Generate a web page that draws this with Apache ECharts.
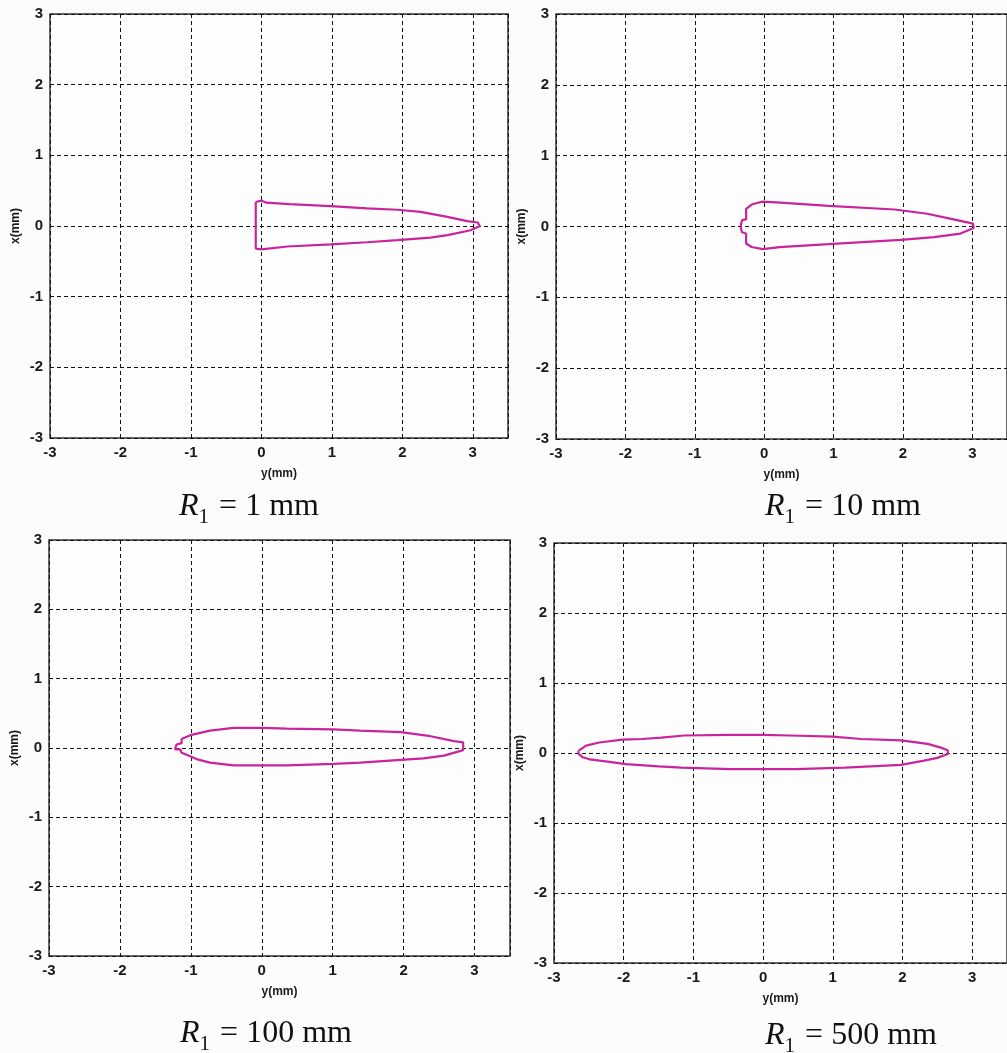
<!DOCTYPE html>
<html>
<head>
<meta charset="utf-8">
<script src="https://cdn.jsdelivr.net/npm/echarts@6/dist/echarts.min.js"></script>
<style>
  html, body { margin: 0; padding: 0; background: #fcfcfc; }
  #chart { width: 1007px; height: 1053px; }
</style>
</head>
<body>
<div id="chart"></div>
<script>
// Tick values shared by all four panels
const yTicks = [-3, -2, -1, 0, 1, 2, 3];   // horizontal axis, y(mm)
const xTicks = [-3, -2, -1, 0, 1, 2, 3];   // vertical axis, x(mm)

// Panel captions (source radius R1)
const radiusLabels = ['1 mm', '10 mm', '100 mm', '500 mm'];

// Contours as [y(mm), x(mm)] pairs, traced around each closed outline
const contourR1 = [
  [-0.08, 0.34], [0.00, 0.36], [0.07, 0.33], [0.40, 0.31], [0.98, 0.28],
  [1.50, 0.25], [1.93, 0.23], [2.26, 0.20], [2.64, 0.13], [2.92, 0.07],
  [3.07, 0.05], [3.10, 0.00], [3.08, -0.02], [2.97, -0.06], [2.64, -0.13],
  [2.40, -0.165], [1.93, -0.20], [1.50, -0.23], [0.98, -0.26], [0.37, -0.29],
  [0.00, -0.33], [-0.08, -0.32], [-0.08, 0.34]
];
const contourR10 = [
  [-0.34, 0.00], [-0.32, 0.09], [-0.26, 0.10], [-0.26, 0.25], [-0.18, 0.31],
  [-0.035, 0.35], [0.18, 0.34], [0.93, 0.29], [1.88, 0.24], [2.35, 0.18],
  [2.73, 0.10], [3.01, 0.04], [3.02, -0.02], [2.83, -0.10], [2.45, -0.15],
  [1.97, -0.19], [0.93, -0.25], [0.22, -0.29], [-0.02, -0.32], [-0.18, -0.29],
  [-0.26, -0.24], [-0.26, -0.10], [-0.32, -0.08], [-0.34, 0.00]
];
const contourR100 = [
  [-1.22, 0.00], [-1.20, 0.05], [-1.13, 0.07], [-1.13, 0.13], [-0.99, 0.19],
  [-0.73, 0.25], [-0.40, 0.29], [0.02, 0.29], [0.35, 0.28], [1.01, 0.27],
  [1.39, 0.25], [1.96, 0.23], [2.38, 0.17], [2.71, 0.10], [2.84, 0.08],
  [2.84, -0.03], [2.57, -0.11], [2.28, -0.15], [1.96, -0.17], [1.39, -0.21],
  [1.01, -0.23], [0.35, -0.25], [0.02, -0.25], [-0.40, -0.25], [-0.73, -0.21],
  [-0.92, -0.16], [-1.01, -0.12], [-1.13, -0.07], [-1.15, -0.02], [-1.22, -0.02],
  [-1.22, 0.00]
];
const contourR500 = [
  [-2.65, 0.03], [-2.54, 0.105], [-2.35, 0.15], [-2.02, 0.19], [-1.74, 0.20],
  [-1.46, 0.22], [-1.13, 0.25], [-0.47, 0.26], [0.00, 0.26], [0.38, 0.25],
  [1.00, 0.235], [1.41, 0.20], [1.98, 0.18], [2.36, 0.13], [2.54, 0.08],
  [2.65, 0.04], [2.65, -0.015], [2.50, -0.07], [2.31, -0.11], [1.98, -0.17],
  [1.18, -0.21], [0.47, -0.23], [0.00, -0.23], [-0.47, -0.23], [-1.17, -0.21],
  [-1.50, -0.19], [-1.97, -0.16], [-2.26, -0.12], [-2.49, -0.09], [-2.59, -0.06],
  [-2.65, -0.01], [-2.65, 0.03]
];
const contours = [contourR1, contourR10, contourR100, contourR500];

// Plot boxes in pixels
const boxes = [
  { left: 50, top: 14, width: 458, height: 424 },
  { left: 556, top: 14, width: 458, height: 425 },
  { left: 49, top: 540, width: 461, height: 416 },
  { left: 554, top: 543, width: 458, height: 420 }
];
// Caption centres
const captionPos = [
  { x: 249, y: 491 }, { x: 843, y: 491 },
  { x: 266, y: 1018 }, { x: 851, y: 1020 }
];

const tickFont = { fontFamily: 'Liberation Sans, Arial', fontWeight: 'bold', fontSize: 15, color: '#1a1a1a' };
const nameFont = { fontFamily: 'Liberation Sans, Arial', fontWeight: 'bold', fontSize: 12, color: '#1a1a1a' };
const gridLine = { show: true, lineStyle: { color: '#111', type: [4, 3], width: 1 } };
const lineColor = '#c8259c';
const serif = { fontFamily: 'Liberation Serif', fontWeight: 'normal', color: '#111', lineHeight: 36, verticalAlign: 'top' };

const grids = [], xAxes = [], yAxes = [], series = [], titles = [];
boxes.forEach((b, i) => {
  grids.push(Object.assign({ show: true, backgroundColor: '#fdfdfd', borderColor: '#333', borderWidth: 1.5 }, b));
  xAxes.push({
    type: 'value', gridIndex: i, min: yTicks[0], max: 3.5, interval: 1,
    name: 'y(mm)', nameLocation: 'middle', nameGap: 30, nameTextStyle: nameFont,
    axisLine: { show: false }, axisTick: { show: false },
    axisLabel: Object.assign({ margin: 7, showMaxLabel: false }, tickFont),
    splitLine: gridLine
  });
  yAxes.push({
    type: 'value', gridIndex: i, min: xTicks[0], max: xTicks[xTicks.length - 1], interval: 1,
    name: 'x(mm)', nameLocation: 'middle', nameGap: 28, nameTextStyle: nameFont,
    axisLine: { show: false }, axisTick: { show: false },
    axisLabel: Object.assign({ margin: 7 }, tickFont),
    splitLine: gridLine
  });
  series.push({
    type: 'line', xAxisIndex: i, yAxisIndex: i, data: contours[i],
    showSymbol: false, symbol: 'none', smooth: false,
    lineStyle: { color: lineColor, width: 2.2 }
  });
  titles.push({
    text: '{r|R}{s|1}{n| = ' + radiusLabels[i] + '}',
    left: captionPos[i].x, top: captionPos[i].y, textAlign: 'center', padding: 0,
    textStyle: {
      fontWeight: 'normal',
      rich: {
        r: Object.assign({}, serif, { fontStyle: 'italic', fontSize: 32 }),
        s: Object.assign({}, serif, { fontSize: 21, padding: [16, 2, 0, 0] }),
        n: Object.assign({}, serif, { fontSize: 32 })
      }
    }
  });
});

const chart = echarts.init(document.getElementById('chart'), null, { renderer: 'canvas' });
chart.setOption({
  animation: false,
  backgroundColor: '#fcfcfc',
  title: titles,
  grid: grids,
  xAxis: xAxes,
  yAxis: yAxes,
  series: series
});
</script>
</body>
</html>
